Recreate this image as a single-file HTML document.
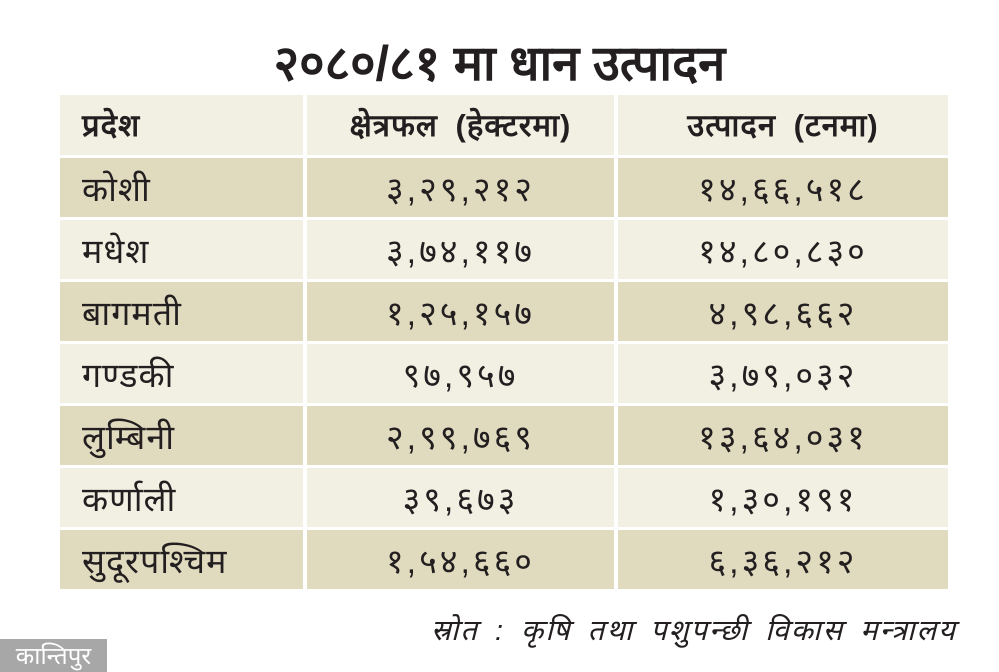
<!DOCTYPE html>
<html><head><meta charset="utf-8"><style>
body{margin:0;width:999px;height:672px;background:#fff;position:relative;overflow:hidden;font-family:"Liberation Sans","DejaVu Sans",sans-serif;color:#231f20}
.t{position:absolute;top:34px;left:0;width:999px;text-align:center;font-size:49px;font-weight:bold;line-height:60px}
.c{position:absolute;display:flex;align-items:center;font-size:34px;letter-spacing:1px}
.src{position:absolute;right:42px;top:610px;font-size:29px;font-style:italic;letter-spacing:2px;word-spacing:6px}
.logo{position:absolute;left:0;top:639px;width:107px;height:33px;background:#a7a7a7;color:#fff;font-size:24px;display:flex;align-items:center;justify-content:center}
</style></head><body>
<div class="t">२०८०/८१ मा धान उत्पादन</div>
<div id="tb"></div>
<div class="src">स्रोत : कृषि तथा पशुपन्छी विकास मन्त्रालय</div>
<div class="logo">कान्तिपुर</div>
<script>
var rows=[["प्रदेश","क्षेत्रफल (हेक्टरमा)","उत्पादन (टनमा)"],
["कोशी","३,२९,२१२","१४,६६,५१८"],["मधेश","३,७४,११७","१४,८०,८३०"],["बागमती","१,२५,१५७","४,९८,६६२"],
["गण्डकी","९७,९५७","३,७९,०३२"],["लुम्बिनी","२,९९,७६९","१३,६४,०३१"],["कर्णाली","३९,६७३","१,३०,१९१"],["सुदूरपश्चिम","१,५४,६६०","६,३६,२१२"]];
var cols=[[60,243],[307,307],[618,330]],h="";
rows.forEach(function(r,i){
 var top=i==0?95:158+(i-1)*62, ht=i==0?60:59;
 var bg=i==0?"#f2efe3":(i%2?"#e0dbbe":"#f2efe3");
 r.forEach(function(t,j){
  var st="left:"+cols[j][0]+"px;top:"+top+"px;width:"+cols[j][1]+"px;height:"+ht+"px;background:"+bg+";";
  st+= j==0?"justify-content:flex-start;padding-left:22px;box-sizing:border-box;":"justify-content:center;";
  if(i==0) st+="font-weight:bold;font-size:31px;word-spacing:8px;";
  else if(j>0) st+="letter-spacing:3px;";
  h+='<div class="c" style="'+st+'">'+t+'</div>';
 });
});
document.getElementById("tb").innerHTML=h;
</script>
</body></html>
